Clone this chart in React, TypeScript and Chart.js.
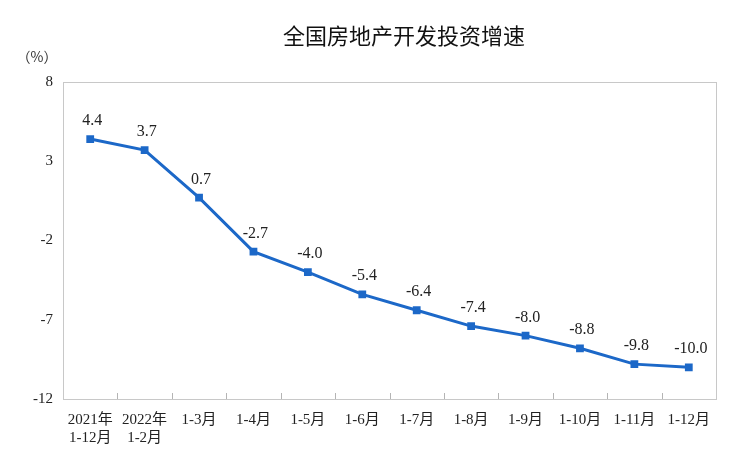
import React, { useEffect, useRef } from "react";
import { Chart, registerables } from "chart.js";

Chart.register(...registerables);

const categories: (string | string[])[] = [
  ["2021年", "1-12月"],
  ["2022年", "1-2月"],
  "1-3月",
  "1-4月",
  "1-5月",
  "1-6月",
  "1-7月",
  "1-8月",
  "1-9月",
  "1-10月",
  "1-11月",
  "1-12月",
];
const growth: number[] = [4.4, 3.7, 0.7, -2.7, -4.0, -5.4, -6.4, -7.4, -8.0, -8.8, -9.8, -10.0];
const yTicks: number[] = [8, 3, -2, -7, -12];
const title = "全国房地产开发投资增速";
const unit = "（%）";

const SERIF = "'Liberation Serif', 'Times New Roman', 'Noto Sans CJK SC', serif";

const decor = {
  id: "decor",
  afterDraw(chart: any) {
    const { ctx, chartArea } = chart;
    const { left, right, top, bottom } = chartArea;
    ctx.save();
    // frame
    ctx.strokeStyle = "#c8c8c8";
    ctx.lineWidth = 1;
    ctx.strokeRect(left + 0.5, top + 0.5, right - left, bottom - top);
    // x tick marks at category boundaries, pointing up
    const xs = chart.scales.x;
    ctx.strokeStyle = "#b4b4b4";
    for (let i = 1; i < categories.length; i++) {
      const x = Math.round((xs.getPixelForValue(i - 1) + xs.getPixelForValue(i)) / 2) + 0.5;
      ctx.beginPath();
      ctx.moveTo(x, bottom);
      ctx.lineTo(x, bottom - 6);
      ctx.stroke();
    }
    // title
    ctx.fillStyle = "#111";
    ctx.font = "22px 'Noto Sans CJK SC', sans-serif";
    ctx.textAlign = "center";
    ctx.textBaseline = "middle";
    ctx.fillText(title, 404, 36);
    ctx.font = "14px 'Noto Sans CJK SC', sans-serif";
    ctx.fillStyle = "#333";
    ctx.fillText(unit, 37, 57);
    // data labels
    const meta = chart.getDatasetMeta(0);
    ctx.font = "16px " + SERIF;
    ctx.fillStyle = "#222";
    ctx.textBaseline = "alphabetic";
    meta.data.forEach((pt: any, i: number) => {
      ctx.fillText(growth[i].toFixed(1), pt.x + 2, pt.y - 14);
    });
    ctx.restore();
  },
};

export default function App() {
  const ref = useRef<HTMLCanvasElement>(null);
  useEffect(() => {
    if (!ref.current) return;
    const chart = new Chart(ref.current, {
      type: "line",
      data: {
        labels: categories,
        datasets: [
          {
            data: growth,
            borderColor: "#1c68c8",
            backgroundColor: "#1c68c8",
            borderWidth: 3,
            pointStyle: "rect",
            pointRadius: 5.5,
            pointBorderWidth: 0,
            tension: 0,
          },
        ],
      },
      plugins: [decor],
      options: {
        animation: false,
        responsive: false,
        devicePixelRatio: 1,
        layout: { padding: { top: 82, right: 34, bottom: 0, left: 0 } },
        plugins: {
          legend: { display: false },
          title: { display: false },
          tooltip: { enabled: false },
        },
        scales: {
          x: {
            offset: true,
            grid: { display: false, drawTicks: false },
            border: { display: false },
            ticks: {
              color: "#222",
              font: { family: SERIF, size: 15, lineHeight: 1.2 },
              padding: 12,
              maxRotation: 0,
              autoSkip: false,
            },
            afterFit: (s: any) => {
              s.height = 67;
            },
          },
          y: {
            min: -12,
            max: 8,
            afterBuildTicks: (s: any) => {
              s.ticks = yTicks.map((v) => ({ value: v }));
            },
            grid: { display: false, drawTicks: false },
            border: { display: false },
            ticks: {
              color: "#222",
              font: { family: SERIF, size: 15 },
              padding: 10,
            },
            afterFit: (s: any) => {
              s.width = 63;
            },
          },
        },
      },
    });
    return () => chart.destroy();
  }, []);
  return (
    <div style={{ position: "fixed", left: 0, top: 0, width: 750, height: 466, background: "#fff" }}>
      <canvas ref={ref} width={750} height={466} style={{ width: 750, height: 466 }} />
    </div>
  );
}
